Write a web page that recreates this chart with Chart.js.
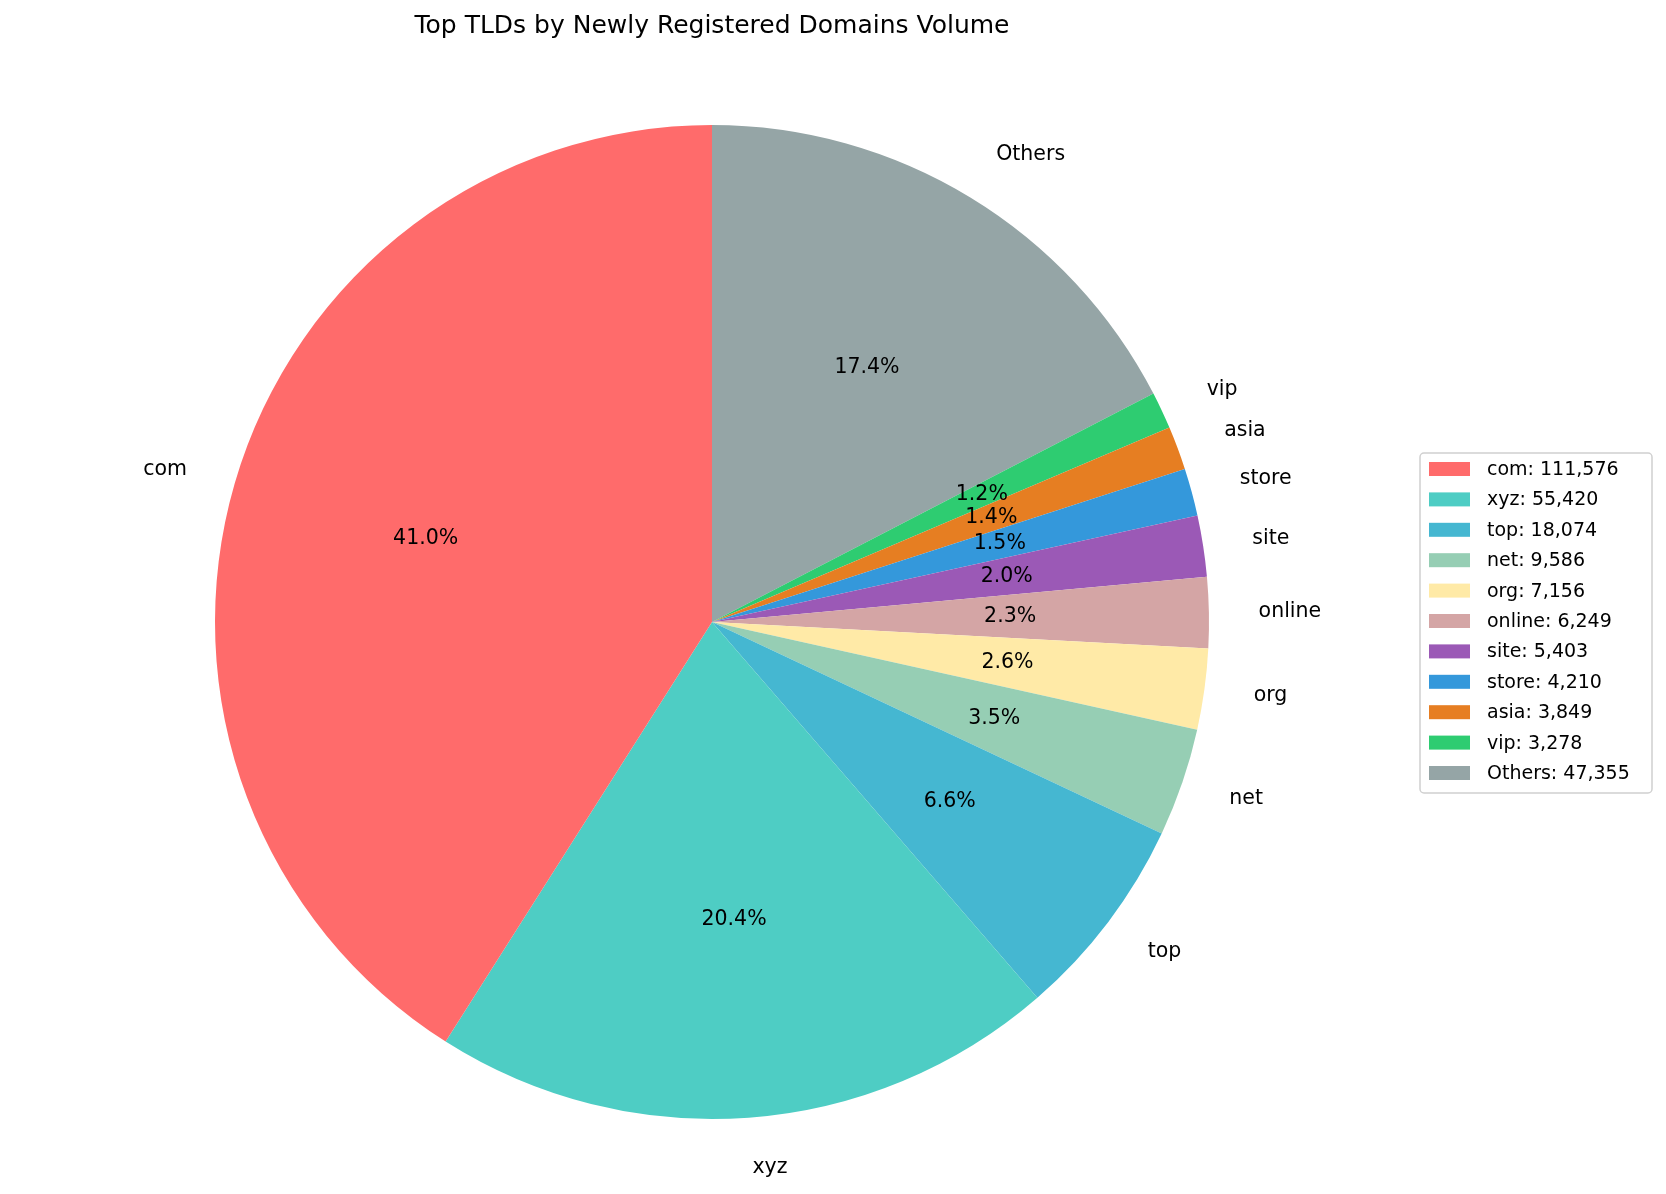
<!DOCTYPE html>
<html><head><meta charset="utf-8">
<script src="https://cdn.jsdelivr.net/npm/chart.js@4"></script>
<style>html,body{margin:0;padding:0;background:#fff;overflow:hidden}canvas{display:block}</style>
</head><body>
<canvas id="c" width="1666" height="1194" style="width:1666px;height:1194px"></canvas>
<script>
const categories = ["com","xyz","top","net","org","online","site","store","asia","vip","Others"];
const values = [111576,55420,18074,9586,7156,6249,5403,4210,3849,3278,47355];
const colors = ["#FF6B6B","#4ECDC4","#45B7D1","#96CEB4","#FFEAA7","#D4A5A5","#9B59B6","#3498DB","#E67E22","#2ECC71","#95A5A6"];
const titleText = "Top TLDs by Newly Registered Domains Volume";
const total = values.reduce((a,b)=>a+b,0);
const rl = categories.slice().reverse(), rv = values.slice().reverse(), rc = colors.slice().reverse();
const FONT = '"DejaVu Sans", sans-serif';
const labelsPlugin = {
  id:'lbl',
  afterDraw(chart){
    const ctx = chart.ctx;
    ctx.save();
    ctx.fillStyle='#000';
    ctx.font='25px '+FONT;
    ctx.textAlign='center'; ctx.textBaseline='middle';
    ctx.fillText(titleText, 712, 26);
    ctx.font='20.5px '+FONT;
    const meta = chart.getDatasetMeta(0);
    meta.data.forEach((arc,i)=>{
      const a=(arc.startAngle+arc.endAngle)/2, r=arc.outerRadius, cx=arc.x, cy=arc.y;
      ctx.textAlign='center';
      ctx.fillText((rv[i]/total*100).toFixed(1)+'%', cx+Math.cos(a)*r*0.6, cy+Math.sin(a)*r*0.6);
      const lx=cx+Math.cos(a)*r*1.1, ly=cy+Math.sin(a)*r*1.1;
      ctx.textAlign = Math.cos(a)>0.001?'left':(Math.cos(a)<-0.001?'right':'center');
      ctx.fillText(rl[i], lx, ly);
    });
    const x0=1420,y0=453,w=232,h=340;
    ctx.strokeStyle='#d0d0d0'; ctx.lineWidth=1.5;
    ctx.beginPath(); ctx.roundRect(x0,y0,w,h,4); ctx.fillStyle='#fff'; ctx.fill(); ctx.stroke();
    ctx.font='19px '+FONT; ctx.textAlign='left';
    categories.forEach((c,i)=>{
      const y=469+i*30.4;
      ctx.fillStyle=colors[i]; ctx.fillRect(1429,y-7,41,14);
      ctx.fillStyle='#000'; ctx.fillText(c+': '+values[i].toLocaleString('en-US'),1487,y+1);
    });
    ctx.restore();
  }
};
new Chart(document.getElementById('c'),{
  type:'pie',
  data:{labels:rl,datasets:[{data:rv,backgroundColor:rc,borderWidth:0}]},
  options:{responsive:false,animation:false,devicePixelRatio:1,
    layout:{padding:{left:215,right:457,top:125,bottom:75}},
    plugins:{legend:{display:false},tooltip:{enabled:false},title:{display:false}}},
  plugins:[labelsPlugin]
});
</script></body></html>
